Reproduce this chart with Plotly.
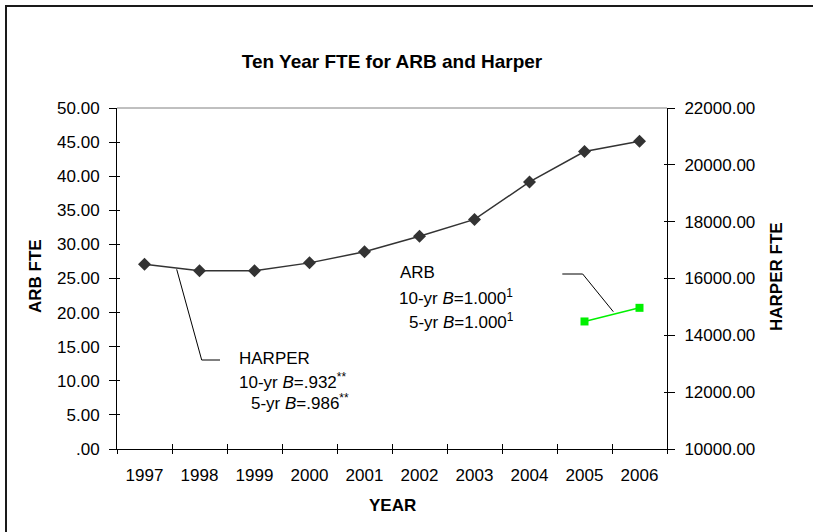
import plotly.graph_objects as go

years = ["1997", "1998", "1999", "2000", "2001", "2002", "2003", "2004", "2005", "2006"]
harper_fte = [16500, 16270, 16270, 16550, 16940, 17490, 18080, 19400, 20470, 20830]
arb_years = ["2005", "2006"]
arb_fte = [18.7, 20.7]

left_ticks = [0, 5, 10, 15, 20, 25, 30, 35, 40, 45, 50]
left_labels = [".00", "5.00", "10.00", "15.00", "20.00", "25.00", "30.00", "35.00", "40.00", "45.00", "50.00"]
right_ticks = [10000, 12000, 14000, 16000, 18000, 20000, 22000]
right_labels = ["10000.00", "12000.00", "14000.00", "16000.00", "18000.00", "20000.00", "22000.00"]

W, H = 813, 532
L, R, T, B = 117, 667, 108, 449


def px(x):
    return (x - L) / (R - L)


def py(y):
    return (B - y) / (B - T)


FONT = "Liberation Sans, Arial, sans-serif"
fig = go.Figure()

fig.add_trace(go.Scatter(
    x=years, y=harper_fte, yaxis="y2", mode="lines+markers",
    line=dict(color="#333333", width=1.5),
    marker=dict(symbol="diamond", size=10, color="#333333"),
    name="HARPER", showlegend=False))

fig.add_trace(go.Scatter(
    x=arb_years, y=arb_fte, yaxis="y", mode="lines+markers",
    line=dict(color="#00f000", width=1.5),
    marker=dict(symbol="square", size=8, color="#00f000"),
    name="ARB", showlegend=False))

# empty traces so the overlay axes (inner halves of the crossing ticks) get drawn
fig.add_trace(go.Scatter(x=[], y=[], xaxis="x2", yaxis="y3", showlegend=False, hoverinfo="skip"))
fig.add_trace(go.Scatter(x=[], y=[], xaxis="x2", yaxis="y4", showlegend=False, hoverinfo="skip"))

axis_common = dict(showline=True, linecolor="black", linewidth=1, ticks="outside",
                   tickcolor="black", ticklen=7, tickwidth=1, showgrid=False, zeroline=False,
                   tickfont=dict(family=FONT, size=17, color="black"))
inner = dict(showline=False, ticks="inside", tickcolor="black", tickwidth=1, ticklen=3,
             showgrid=False, zeroline=False, showticklabels=False, fixedrange=True)

boundaries = [i - 0.5 for i in range(len(years) + 1)]

fig.update_layout(
    width=W, height=H,
    margin=dict(l=L, r=W - R, t=T, b=H - B),
    paper_bgcolor="white", plot_bgcolor="white",
    font=dict(family=FONT, size=17, color="black"),
    title=dict(text="<b>Ten Year FTE for ARB and Harper</b>", x=392 / W, xanchor="center",
               y=1 - 61 / H, yanchor="middle", font=dict(family=FONT, size=19, color="black")),
    xaxis=dict(type="category", categoryorder="array", categoryarray=years,
               tickson="boundaries", range=[-0.5, 9.5], ticklabelstandoff=11,
               **{**axis_common, "ticklen": 4}),
    xaxis2=dict(overlaying="x", anchor="y3", side="bottom", range=[-0.5, 9.5],
                tickvals=boundaries, **{**inner, "ticklen": 5}),
    yaxis=dict(range=[0, 50], tickvals=left_ticks, ticktext=left_labels, ticklabelstandoff=6,
               **axis_common),
    yaxis2=dict(range=[10000, 22000], tickvals=right_ticks, ticktext=right_labels,
                overlaying="y", side="right", ticklabelstandoff=6, **axis_common),
    yaxis3=dict(overlaying="y", anchor="x2", side="left", range=[0, 50], tickvals=left_ticks, **inner),
    yaxis4=dict(overlaying="y", anchor="x2", side="right", range=[10000, 22000],
                tickvals=right_ticks, **inner),
)

annotations = [
    dict(text="<b>YEAR</b>", x=px(392), y=py(505)),
    dict(text="<b>ARB FTE</b>", x=px(35), y=py(276), textangle=-90),
    dict(text="<b>HARPER FTE</b>", x=px(776), y=py(277), textangle=-90),
]
for a in annotations:
    a.update(xref="paper", yref="paper", showarrow=False, xanchor="center", yanchor="middle",
             font=dict(family=FONT, size=17, color="black"))

notes = [
    ("HARPER", 237, 358),
    ("10-yr <i>B</i>=.932<sup>**</sup>", 237, 381),
    ("5-yr <i>B</i>=.986<sup>**</sup>", 249, 402),
    ("ARB", 398, 272),
    ("10-yr <i>B</i>=1.000<sup>1</sup>", 397, 297),
    ("5-yr <i>B</i>=1.000<sup>1</sup>", 407, 321),
]
for text, x, y in notes:
    annotations.append(dict(text=text, x=px(x), y=py(y), xref="paper", yref="paper",
                            showarrow=False, xanchor="left", yanchor="middle",
                            font=dict(family=FONT, size=17, color="black")))
fig.update_layout(annotations=annotations)


def path(points):
    return "M " + " L ".join(f"{px(x)},{py(y)}" for x, y in points)


shapes = [
    dict(type="line", xref="paper", yref="paper", x0=0, x1=1, y0=1, y1=1,
         line=dict(color="#808080", width=1)),
    dict(type="line", xref="paper", yref="paper", x0=px(5), x1=px(813), y0=py(6), y1=py(6),
         line=dict(color="#1a1a1a", width=2)),
    dict(type="line", xref="paper", yref="paper", x0=px(6), x1=px(6), y0=py(5), y1=py(532),
         line=dict(color="#1a1a1a", width=2)),
    dict(type="path", xref="paper", yref="paper",
         path=path([(176.7, 269.3), (201.7, 360), (220, 360)]),
         line=dict(color="black", width=1)),
    dict(type="path", xref="paper", yref="paper",
         path=path([(562.3, 274), (582.7, 274), (613.3, 311.7)]),
         line=dict(color="black", width=1)),
]
fig.update_layout(shapes=shapes)

fig.write_html("out.html", config={"displayModeBar": False},
               post_script="document.body.style.margin='0';document.body.style.overflow='hidden';")
